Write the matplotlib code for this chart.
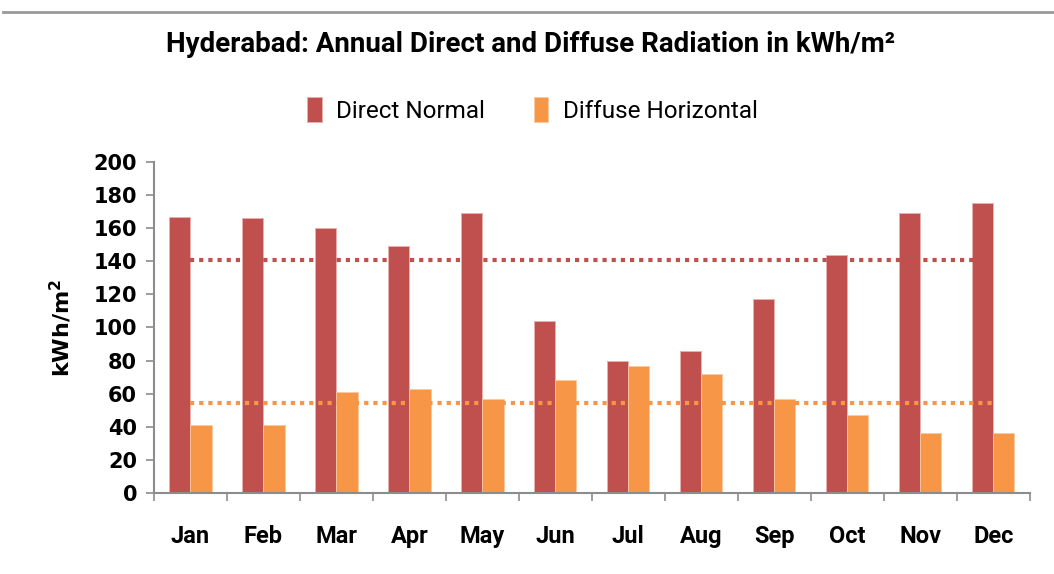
import numpy as np
import matplotlib
matplotlib.use('Agg')
import matplotlib.pyplot as plt
from matplotlib import font_manager

months = ['Jan', 'Feb', 'Mar', 'Apr', 'May', 'Jun', 'Jul', 'Aug', 'Sep', 'Oct', 'Nov', 'Dec']
direct_normal = [167, 166, 160, 149, 169, 104, 80, 86, 117, 144, 169, 175]
diffuse_horizontal = [41, 41, 61, 63, 57, 68, 77, 72, 57, 47, 36, 36]

red = '#C0504D'
orange = '#F79646'

names = {f.name for f in font_manager.fontManager.ttflist}
narrow = 'Liberation Sans Narrow' if 'Liberation Sans Narrow' in names else 'Roboto'

fig = plt.figure(figsize=(10.54, 5.74), dpi=100)
ax = fig.add_axes([0.146, 0.141, 0.831, 0.577])

x = np.arange(len(months))
w = 0.29
ax.bar(x - w / 2, direct_normal, w, color=red, edgecolor='#e8b0ae', linewidth=0.6, label='Direct Normal')
ax.bar(x + w / 2, diffuse_horizontal, w, color=orange, edgecolor='#fbc9a0', linewidth=0.6, label='Diffuse Horizontal')

# average lines
ax.plot(x, [np.mean(direct_normal)] * len(x), color=red, ls=(0, (1, 1.2)), lw=3)
ax.plot(x, [np.mean(diffuse_horizontal)] * len(x), color=orange, ls=(0, (1, 1.2)), lw=3)

ax.set_xlim(-0.5, 11.5)
ax.set_ylim(0, 200)
ax.set_yticks(range(0, 201, 20))
ax.set_yticklabels([str(v) for v in range(0, 201, 20)], fontsize=15, fontweight='bold', family='DejaVu Sans')

ax.set_xticks(np.arange(-0.5, 12, 1))
ax.set_xticklabels([])
ax.set_xticks(x, minor=True)
ax.set_xticklabels(months, minor=True, fontsize=17, fontweight='bold', family=narrow)
ax.tick_params(axis='x', which='minor', length=0, pad=23)
ax.tick_params(axis='x', which='major', length=6, color='#8c8c8c', width=1.2, direction='out')
ax.tick_params(axis='y', length=6, color='#8c8c8c', width=1.2, pad=6)

for s in ['top', 'right']:
    ax.spines[s].set_visible(False)
for s in ['left', 'bottom']:
    ax.spines[s].set_color('#8c8c8c')
    ax.spines[s].set_linewidth(1.5)

ax.set_ylabel('kWh/m$^\\mathbf{2}$', fontsize=16, fontweight='bold', family='DejaVu Sans', labelpad=14)

fig.text(0.503, 0.922, 'Hyderabad: Annual Direct and Diffuse Radiation in kWh/m\u00b2',
         ha='center', va='center', fontsize=20, fontweight='bold', family=narrow)

leg = fig.legend(loc='center', bbox_to_anchor=(0.505, 0.808), ncol=2, frameon=False,
                 prop={'family': narrow, 'size': 17.5}, handlelength=0.6, handleheight=1.2,
                 handletextpad=0.6, columnspacing=2.0)

fig.add_artist(plt.Line2D([0.003, 1.0], [0.979, 0.979], color='#999999', lw=2))

fig.savefig('out.png', dpi=100)
